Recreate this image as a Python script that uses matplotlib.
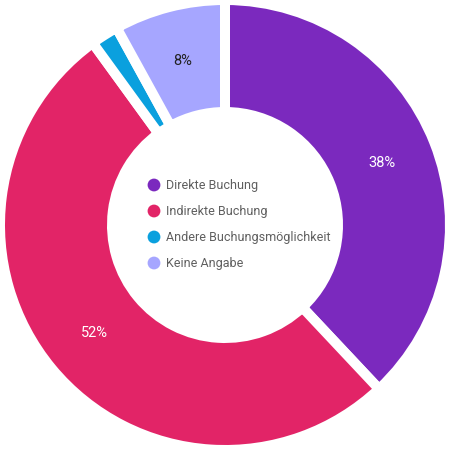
import matplotlib
matplotlib.use("Agg")
import matplotlib.pyplot as plt
from matplotlib.patches import Wedge
import numpy as np

categories = ["Direkte Buchung", "Indirekte Buchung", "Andere Buchungsmöglichkeit", "Keine Angabe"]
values = [38, 52, 2, 8]
labels = ["38%", "52%", "", "8%"]
colors = ["#7B29BE", "#E22467", "#0AA0DE", "#A6A6FF"]
label_colors = ["white", "white", "white", "#222222"]

plt.rcParams["font.family"] = ["Roboto", "DejaVu Sans"]

fig = plt.figure(figsize=(4.5, 4.5), dpi=100)
ax = fig.add_axes([0, 0, 1, 1])
ax.set_xlim(-225, 225)
ax.set_ylim(-225, 225)
ax.set_aspect("equal")
ax.axis("off")

outer = 225
inner = 113
gap_pt = 7.2

total = sum(values)
start = 90.0
for v, c, lab, lc in zip(values, colors, labels, label_colors):
    sweep = 360.0 * v / total
    end = start
    begin = start - sweep
    ax.add_patch(Wedge((0, 0), outer, begin, end, width=outer - inner,
                       facecolor=c, edgecolor="white", linewidth=gap_pt))
    if lab:
        mid = np.deg2rad((begin + end) / 2)
        r = (outer + inner) / 2
        ax.text(r * np.cos(mid), r * np.sin(mid), lab, color=lc,
                fontsize=10.5, ha="center", va="center")
    start = begin

# legend in the hole
for i, (name, c) in enumerate(zip(categories, colors)):
    y = 40 - 26 * i
    ax.scatter([-71], [y], s=85, color=c, edgecolors="none", zorder=3)
    ax.text(-59, y, name, fontsize=9, color="#5f5f5f", ha="left", va="center")

fig.savefig("out.png", dpi=100)
